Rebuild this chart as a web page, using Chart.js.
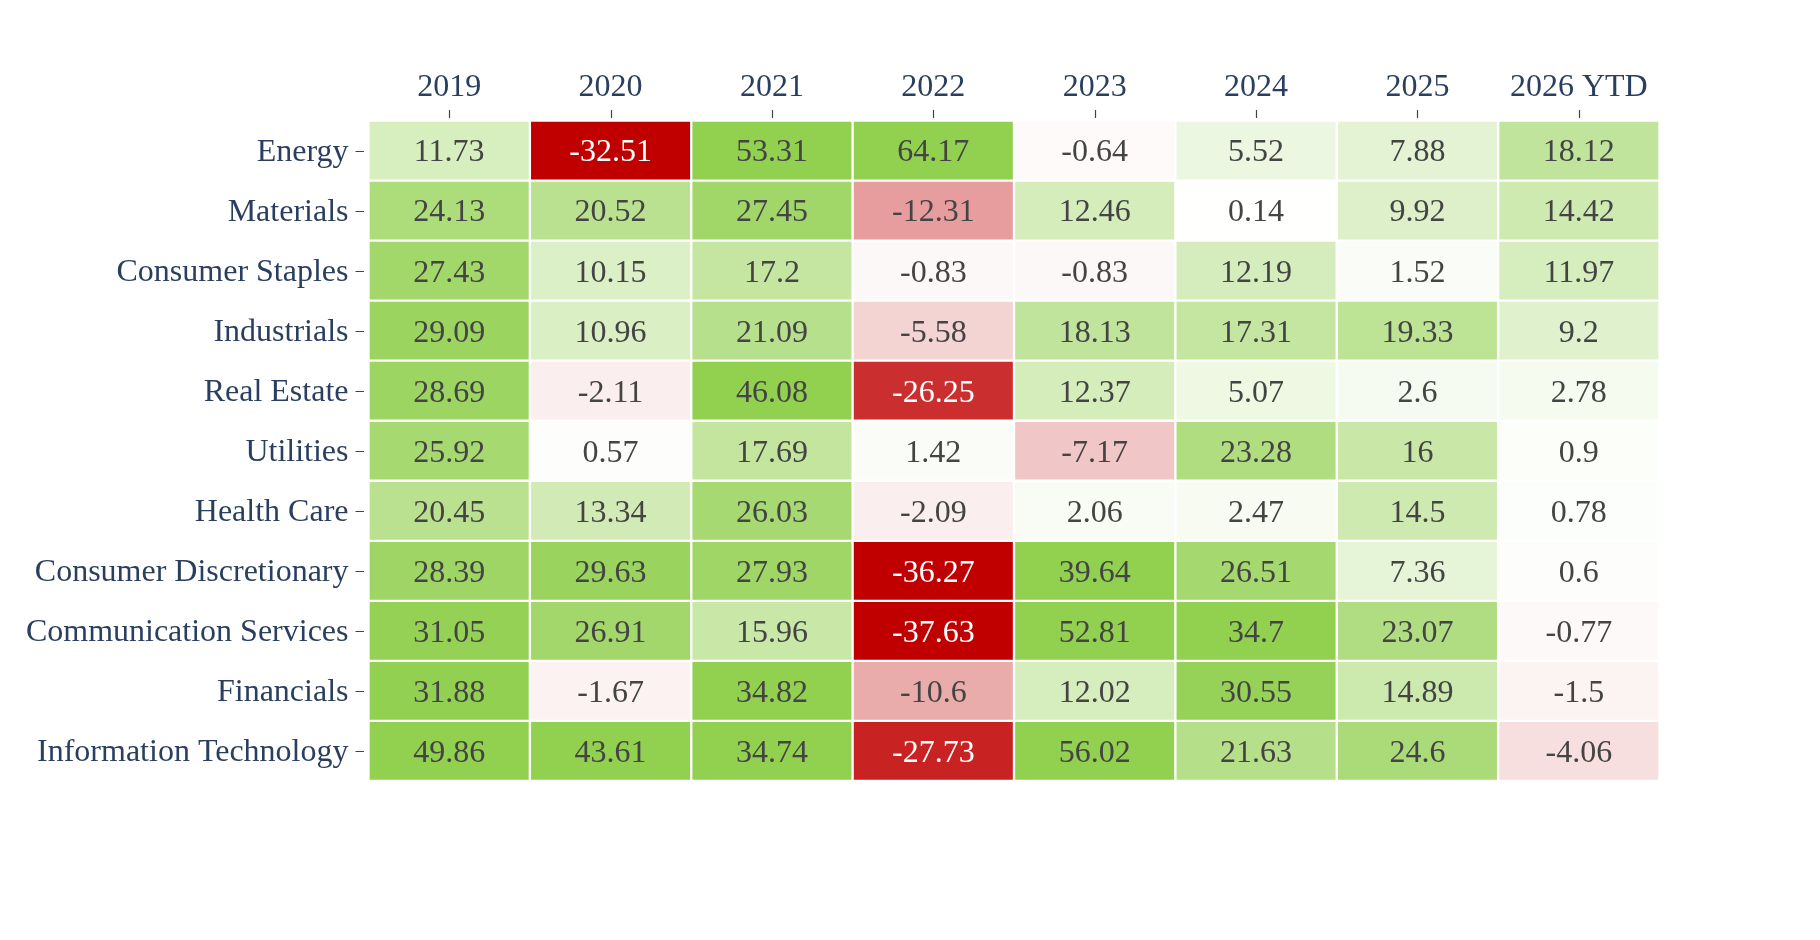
<!DOCTYPE html>
<html>
<head>
<meta charset="utf-8">
<script src="https://cdn.jsdelivr.net/npm/chart.js@4.4.1/dist/chart.umd.min.js"></script>
<style>
  body { margin: 0; background: #fff; }
  #wrap { width: 1820px; height: 940px; }
</style>
</head>
<body>
<div id="wrap"><canvas id="heat" width="1820" height="940"></canvas></div>
<script>
var sectors = ["Energy", "Materials", "Consumer Staples", "Industrials", "Real Estate", "Utilities",
  "Health Care", "Consumer Discretionary", "Communication Services", "Financials", "Information Technology"];
var years = ["2019", "2020", "2021", "2022", "2023", "2024", "2025", "2026 YTD"];

// yearly returns, one array per column (same order as sectors)
var r2019 = [11.73, 24.13, 27.43, 29.09, 28.69, 25.92, 20.45, 28.39, 31.05, 31.88, 49.86];
var r2020 = [-32.51, 20.52, 10.15, 10.96, -2.11, 0.57, 13.34, 29.63, 26.91, -1.67, 43.61];
var r2021 = [53.31, 27.45, 17.2, 21.09, 46.08, 17.69, 26.03, 27.93, 15.96, 34.82, 34.74];
var r2022 = [64.17, -12.31, -0.83, -5.58, -26.25, 1.42, -2.09, -36.27, -37.63, -10.6, -27.73];
var r2023 = [-0.64, 12.46, -0.83, 18.13, 12.37, -7.17, 2.06, 39.64, 52.81, 12.02, 56.02];
var r2024 = [5.52, 0.14, 12.19, 17.31, 5.07, 23.28, 2.47, 26.51, 34.7, 30.55, 21.63];
var r2025 = [7.88, 9.92, 1.52, 19.33, 2.6, 16, 14.5, 7.36, 23.07, 14.89, 24.6];
var r2026 = [18.12, 14.42, 11.97, 9.2, 2.78, 0.9, 0.78, 0.6, -0.77, -1.5, -4.06];
var columns = [r2019, r2020, r2021, r2022, r2023, r2024, r2025, r2026];

var zLimit = 32; // colour saturates beyond +/- this
var redEnd = [192, 0, 0];
var greenEnd = [146, 208, 80];

function mix(v) {
  var t = Math.min(Math.abs(v) / zLimit, 1);
  var c = v < 0 ? redEnd : greenEnd;
  return c.map(function (ch) { return Math.round(255 + (ch - 255) * t); });
}
function cellColor(v) {
  return "rgb(" + mix(v).join(",") + ")";
}
function textColor(v) {
  var c = mix(v);
  var lum = (0.299 * c[0] + 0.587 * c[1] + 0.114 * c[2]) / 255;
  return lum < 0.5 ? "#ffffff" : "#444444";
}

var font = "'Liberation Serif', 'Times New Roman', serif";

// each year is one stacked slice of unit width
var datasets = years.map(function (yr, j) {
  return {
    label: yr,
    data: sectors.map(function () { return 1; }),
    backgroundColor: columns[j].map(cellColor),
    borderColor: "#ffffff",
    borderWidth: 1.5,
    borderSkipped: false,
    barPercentage: 1,
    categoryPercentage: 1
  };
});

var cellText = {
  id: "cellText",
  afterDatasetsDraw: function (chart) {
    var ctx = chart.ctx;
    ctx.save();
    ctx.font = "32px " + font;
    ctx.textAlign = "center";
    ctx.textBaseline = "middle";
    chart.data.datasets.forEach(function (ds, j) {
      chart.getDatasetMeta(j).data.forEach(function (bar, i) {
        var v = columns[j][i];
        ctx.fillStyle = textColor(v);
        ctx.fillText(String(v), (bar.x + bar.base) / 2, bar.y + 2.5);
      });
    });
    ctx.restore();
  }
};

// tick marks sit a few px off the cells, like the original
var tickMarks = {
  id: "tickMarks",
  afterDraw: function (chart) {
    var ctx = chart.ctx, xs = chart.scales.x, ys = chart.scales.y, area = chart.chartArea;
    ctx.save();
    ctx.strokeStyle = "#444";
    ctx.lineWidth = 1.2;
    ctx.beginPath();
    xs.ticks.forEach(function (t, i) {
      var px = Math.round(xs.getPixelForTick(i)) + 0.5;
      ctx.moveTo(px, area.top - 10.5);
      ctx.lineTo(px, area.top - 2.5);
    });
    ys.ticks.forEach(function (t, i) {
      var py = Math.round(ys.getPixelForTick(i)) + 0.5;
      ctx.moveTo(area.left - 13, py);
      ctx.lineTo(area.left - 4.5, py);
    });
    ctx.stroke();
    ctx.restore();
  }
};

new Chart(document.getElementById("heat"), {
  type: "bar",
  data: { labels: sectors, datasets: datasets },
  options: {
    indexAxis: "y",
    responsive: false,
    animation: false,
    devicePixelRatio: 1,
    events: [],
    layout: { padding: { left: 0, top: 0, right: 160.5, bottom: 159 } },
    plugins: { legend: { display: false }, tooltip: { enabled: false } },
    scales: {
      x: {
        type: "linear",
        position: "top",
        stacked: true,
        min: 0,
        max: years.length,
        afterBuildTicks: function (scale) {
          scale.ticks = years.map(function (y, i) { return { value: i + 0.5 }; });
        },
        afterFit: function (scale) { scale.height = 120.5; },
        ticks: {
          autoSkip: false,
          maxRotation: 0,
          padding: 6,
          color: "#2a3f5f",
          font: { family: font, size: 32 },
          callback: function (v, i) { return years[i]; }
        },
        grid: { drawOnChartArea: false, drawTicks: true, tickLength: 8, color: "transparent" },
        border: { display: false }
      },
      y: {
        stacked: true,
        afterFit: function (scale) { scale.width = 368.5; },
        ticks: {
          padding: 8,
          labelOffset: 2,
          color: "#2a3f5f",
          font: { family: font, size: 32 }
        },
        grid: { offset: false, drawOnChartArea: false, drawTicks: true, tickLength: 12, color: "transparent" },
        border: { display: false }
      }
    }
  },
  plugins: [cellText, tickMarks]
});
</script>
</body>
</html>
